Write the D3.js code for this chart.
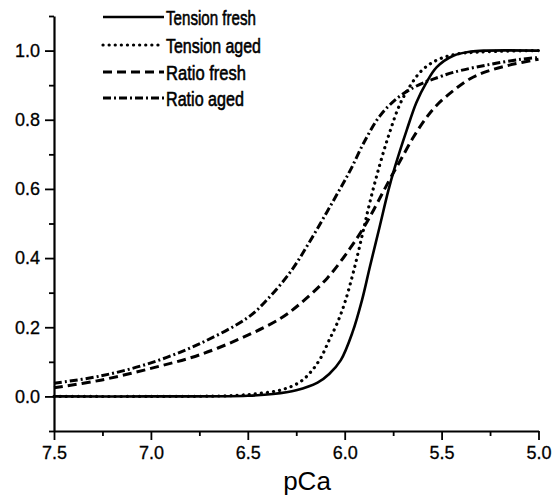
<!DOCTYPE html>
<html><head><meta charset="utf-8">
<script src="https://cdn.jsdelivr.net/npm/d3@7"></script>
<style>body{margin:0;background:#fff}svg{display:block}</style>
</head><body>
<svg id="c" width="560" height="497"></svg>
<script>
const xTicks = [7.5, 7.0, 6.5, 6.0, 5.5, 5.0];
const xMinor = [7.25, 6.75, 6.25, 5.75, 5.25];
const yTicks = [0.0, 0.2, 0.4, 0.6, 0.8, 1.0];
const yMinor = [-0.1, 0.1, 0.3, 0.5, 0.7, 0.9, 1.1];

const seriesNames = ["Tension fresh", "Tension aged", "Ratio fresh", "Ratio aged"];

const tensionFreshPCa = [7.5, 7.0, 6.5, 6.37, 6.25, 6.14, 6.08, 6.02, 5.96, 5.91, 5.87, 5.82, 5.775, 5.74, 5.68, 5.63, 5.58, 5.525, 5.44, 5.35, 5.27, 5.0];
const tensionFresh    = [0, 0, 0.002, 0.007, 0.018, 0.04, 0.065, 0.105, 0.185, 0.28, 0.375, 0.49, 0.595, 0.665, 0.77, 0.85, 0.906, 0.952, 0.985, 0.997, 1.0, 1.0];

const tensionAgedPCa = [7.5, 7.0, 6.6, 6.45, 6.32, 6.23, 6.17, 6.12, 6.08, 6.04, 6.0, 5.955, 5.91, 5.87, 5.82, 5.77, 5.715, 5.66, 5.61, 5.54, 5.44, 5.3, 5.0];
const tensionAged    = [0, 0, 0.002, 0.008, 0.02, 0.042, 0.074, 0.115, 0.163, 0.21, 0.27, 0.36, 0.465, 0.562, 0.668, 0.76, 0.845, 0.9, 0.938, 0.968, 0.988, 0.996, 1.0];

const ratioFreshPCa = [7.5, 7.26, 7.0, 6.75, 6.5, 6.33, 6.23, 6.09, 5.97, 5.9, 5.85, 5.77, 5.715, 5.645, 5.58, 5.525, 5.44, 5.355, 5.27, 5.15, 5.0];
const ratioFresh    = [0.025, 0.047, 0.081, 0.12, 0.177, 0.226, 0.268, 0.342, 0.43, 0.49, 0.54, 0.625, 0.68, 0.75, 0.805, 0.842, 0.884, 0.918, 0.939, 0.958, 0.975];

const ratioAgedPCa = [7.5, 7.26, 7.0, 6.75, 6.5, 6.4, 6.28, 6.18, 6.09, 6.02, 5.97, 5.90, 5.82, 5.73, 5.645, 5.58, 5.54, 5.44, 5.27, 5.10, 5.0];
const ratioAged    = [0.038, 0.059, 0.097, 0.152, 0.228, 0.28, 0.36, 0.448, 0.535, 0.604, 0.655, 0.735, 0.81, 0.862, 0.893, 0.91, 0.918, 0.937, 0.958, 0.974, 0.98];

const svg = d3.select("#c");
const x = d3.scaleLinear().domain([7.5, 5.0]).range([54, 538.5]);
const y = d3.scaleLinear().domain([-0.1, 1.1]).range([431, 16]);

const font = "Arial, 'Liberation Sans', sans-serif";

// X axis
svg.append("g").attr("transform", `translate(0,${y(-0.1)})`)
  .call(d3.axisBottom(x).tickValues(xTicks).tickFormat(d3.format(".1f")).tickSize(9).tickSizeOuter(0).tickPadding(6));
svg.append("g").attr("transform", `translate(0,${y(-0.1)})`)
  .call(d3.axisBottom(x).tickValues(xMinor).tickFormat("").tickSize(5).tickSizeOuter(0))
  .select(".domain").remove();
// Y axis
svg.append("g").attr("transform", `translate(${x(7.5)},0)`)
  .call(d3.axisLeft(y).tickValues(yTicks).tickFormat(d3.format(".1f")).tickSize(9).tickSizeOuter(0).tickPadding(5));
svg.append("g").attr("transform", `translate(${x(7.5)},0)`)
  .call(d3.axisLeft(y).tickValues(yMinor).tickFormat("").tickSize(5).tickSizeOuter(0))
  .select(".domain").remove();

svg.selectAll(".domain").attr("stroke", "#000").attr("stroke-width", 2.2);
svg.selectAll(".tick line").attr("stroke", "#000").attr("stroke-width", 1.8);
svg.selectAll(".tick text").attr("font-family", font).attr("font-size", 18).attr("fill", "#000")
  .attr("stroke", "#000").attr("stroke-width", 0.3);

svg.append("text").attr("x", 307).attr("y", 490).attr("text-anchor", "middle")
  .attr("font-family", font).attr("font-size", 26).attr("fill", "#000").text("pCa");

const styles = [
  {dash: null, cap: "butt", w: 2.6},
  {dash: "0.1,6", cap: "round", w: 3.2},
  {dash: "9,5", cap: "butt", w: 3},
  {dash: "8,3,2,3", cap: "butt", w: 3}
];

const series = [
  {p: tensionFreshPCa, v: tensionFresh},
  {p: tensionAgedPCa, v: tensionAged},
  {p: ratioFreshPCa, v: ratioFresh},
  {p: ratioAgedPCa, v: ratioAged}
];

const line = d3.line().x(d => x(d[0])).y(d => y(d[1])).curve(d3.curveCatmullRom.alpha(0.5));
series.forEach((s, i) => {
  const pts = s.p.map((p, j) => [p, s.v[j]]);
  svg.append("path").attr("d", line(pts)).attr("fill", "none")
    .attr("stroke", "#000").attr("stroke-width", styles[i].w)
    .attr("stroke-linecap", styles[i].cap)
    .attr("stroke-dasharray", styles[i].dash);
});

// Legend
const legY = [17, 45, 72, 98];
const legW = [90, 95, 80, 78];
seriesNames.forEach((n, i) => {
  svg.append("line").attr("x1", 103).attr("x2", 164).attr("y1", legY[i]).attr("y2", legY[i])
    .attr("stroke", "#000").attr("stroke-width", styles[i].w)
    .attr("stroke-linecap", styles[i].cap).attr("stroke-dasharray", styles[i].dash);
  svg.append("text").attr("x", 166).attr("y", legY[i] + 7.5)
    .attr("font-family", font).attr("font-size", 20.5).attr("fill", "#000")
    .attr("stroke", "#000").attr("stroke-width", 0.6)
    .attr("textLength", legW[i]).attr("lengthAdjust", "spacingAndGlyphs")
    .text(n);
});
</script>
</body></html>
